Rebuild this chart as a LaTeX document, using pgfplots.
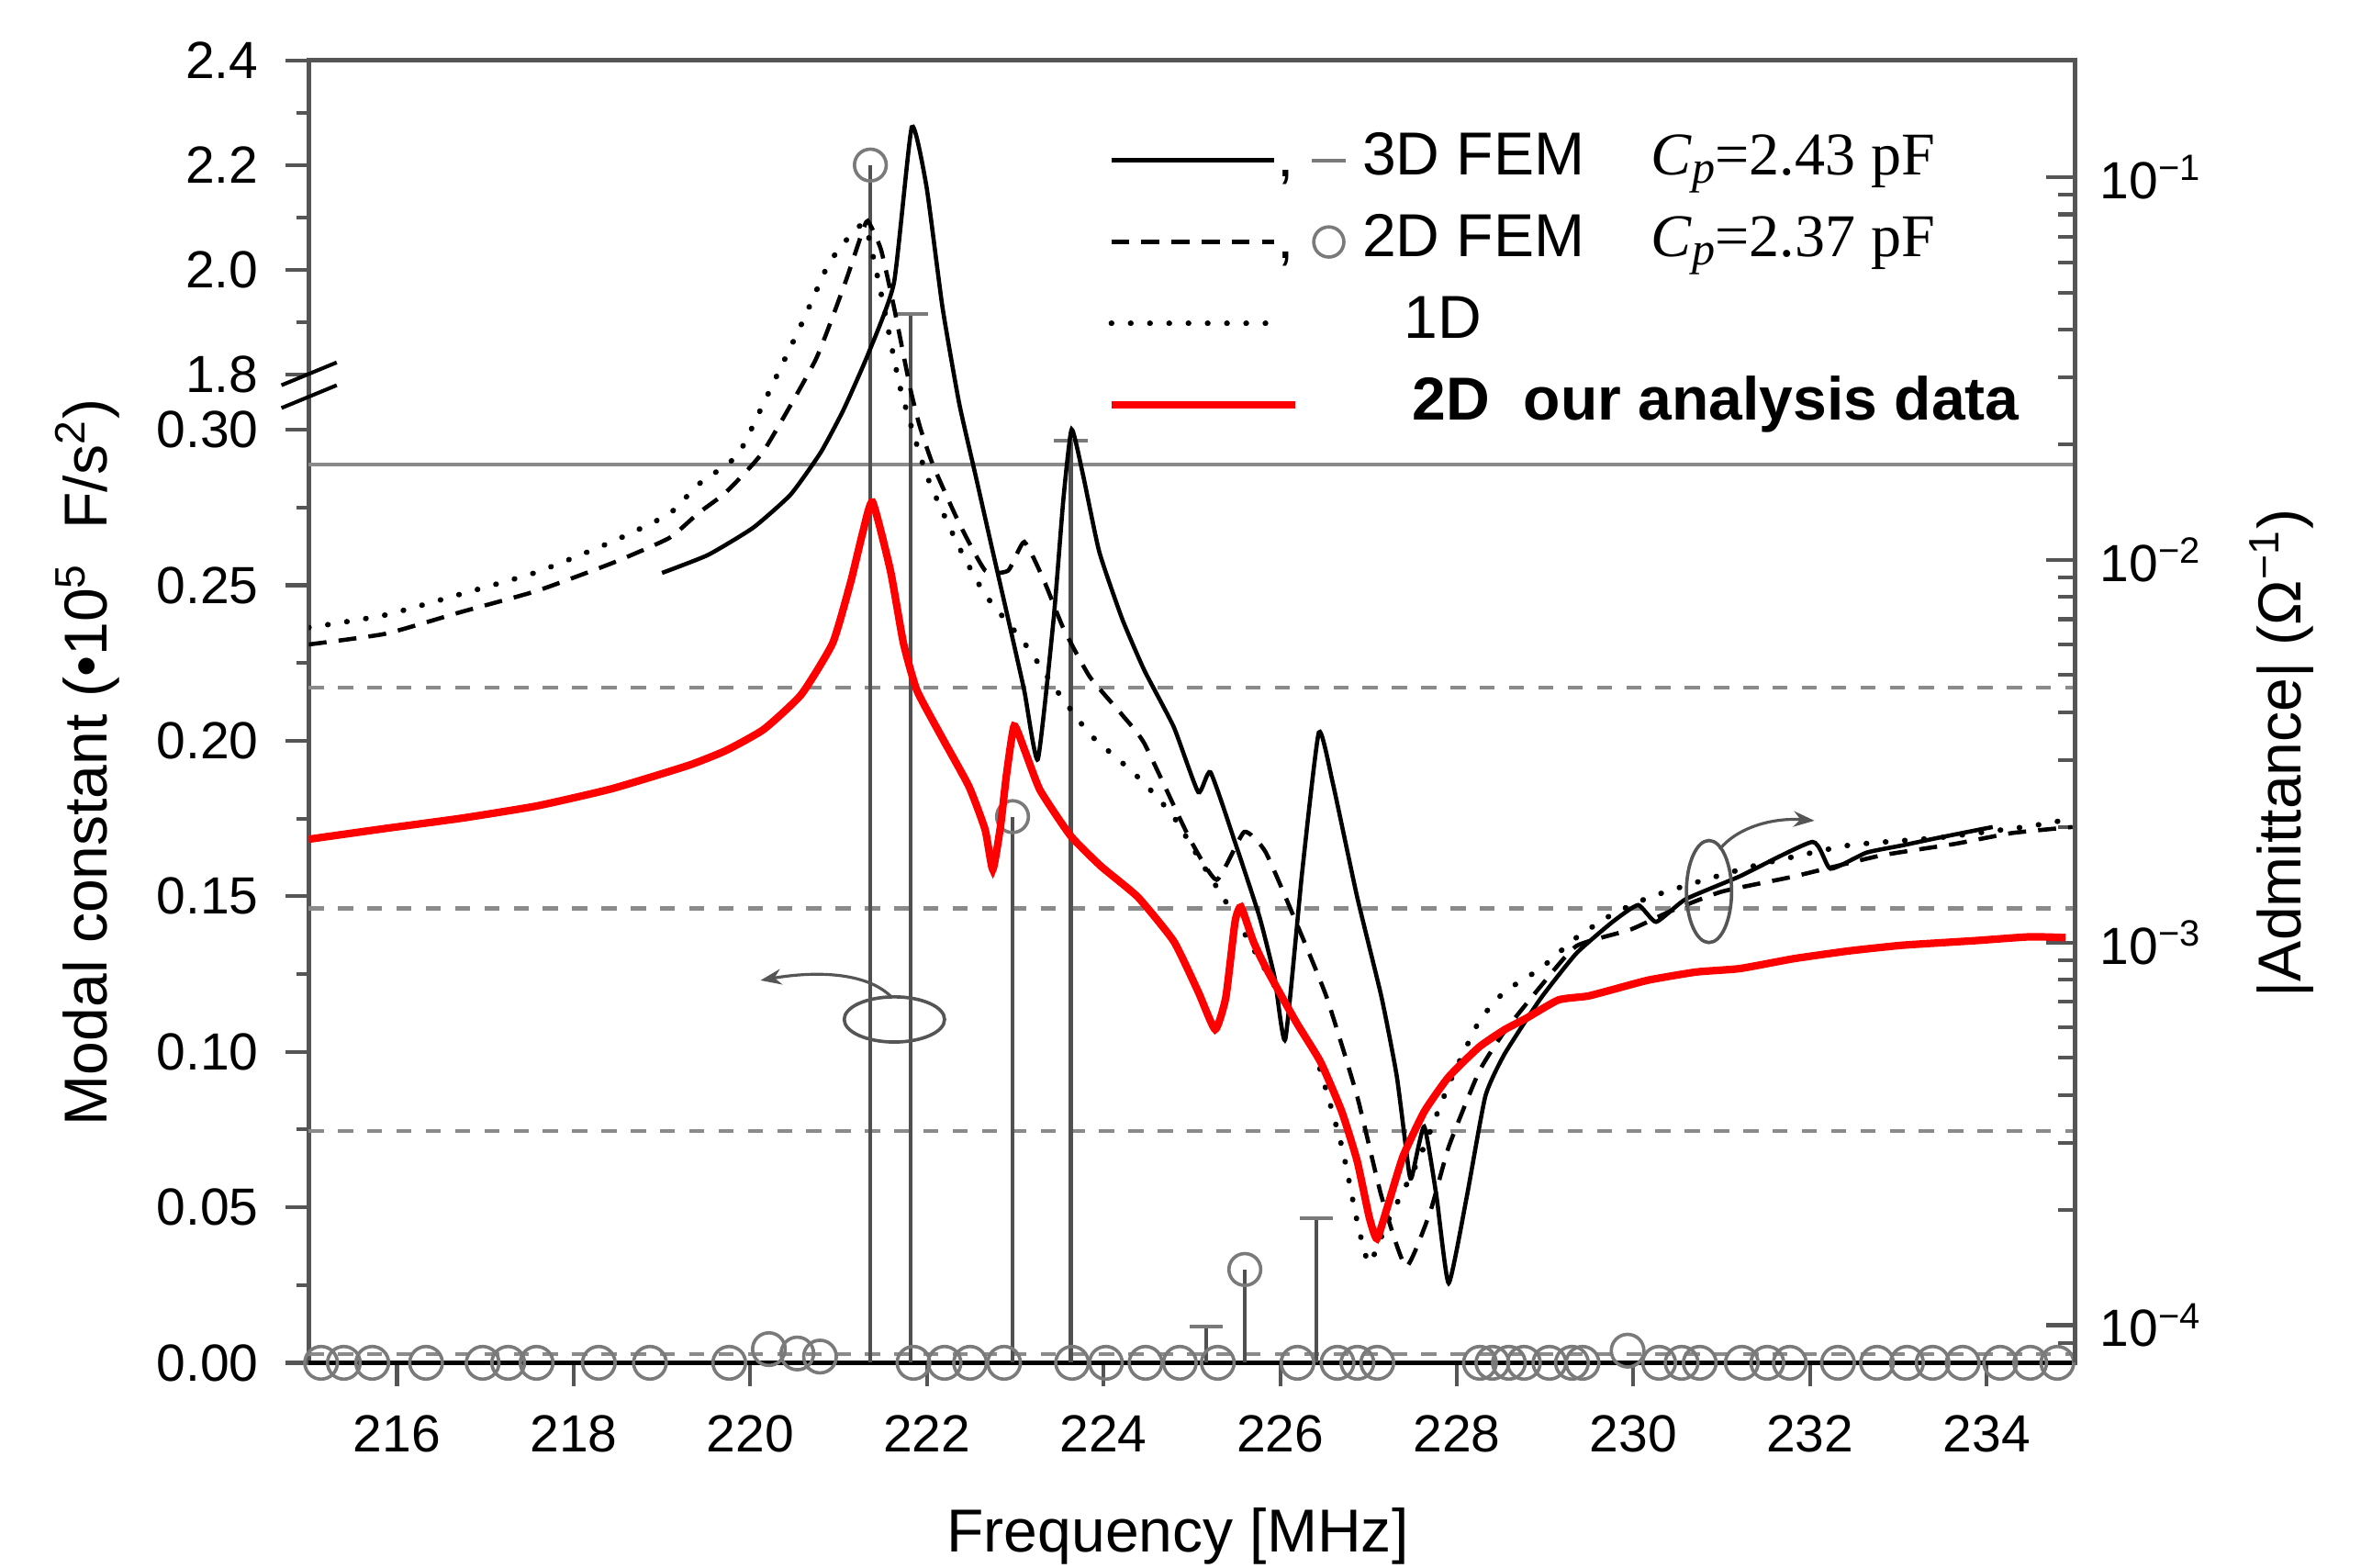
\documentclass[border=0pt]{standalone}
\usepackage{pgfplots}
\pgfplotsset{compat=1.18}
\usepackage{fontspec}
\setmainfont{Liberation Sans}
\newfontfamily\seriffont{Liberation Serif}
\usetikzlibrary{arrows.meta}
\definecolor{axgray}{HTML}{555555}
\definecolor{stemgray}{HTML}{505050}
\definecolor{refgray}{HTML}{8A8A8A}
\definecolor{markgray}{HTML}{7A7A7A}
\begin{document}
\begin{tikzpicture}
% ---------------- left axis: modal constants (broken scale) ----------------
\begin{axis}[
  width=422.3pt, height=311.4pt, scale only axis,
  xmin=215, xmax=235, ymin=0, ymax=0.4188,
  clip=false,
  axis line style={axgray, line width=1.1pt},
  tick align=outside, xtick pos=left, ytick pos=left,
  xtick={216,218,220,222,224,226,228,230,232,234},
  ytick={0,0.05,0.10,0.15,0.20,0.25,0.30,0.31785,0.35148,0.38510,0.41873},
  yticklabels={0.00,0.05,0.10,0.15,0.20,0.25,0.30,1.8,2.0,2.2,2.4},
  minor ytick={0.025,0.075,0.125,0.175,0.225,0.275,0.33467,0.36829,0.40192},
  major tick length=5.5pt, minor tick length=3pt,
  tick style={axgray, line width=0.9pt},
  tick label style={font=\fontsize{12.5}{14}\selectfont, black},
  xticklabel style={yshift=-3.5pt},
  yticklabel style={xshift=-3pt},
  /pgf/number format/assume math mode=true,
  xlabel={Frequency [MHz]},
  ylabel={Modal constant (•10\textsuperscript{5}\ \ F/s\textsuperscript{2})},
  every axis x label/.style={at={(axis description cs:0.492,-0.133)}, anchor=center,
    font=\fontsize{14.5}{17}\selectfont},
  every axis y label/.style={at={(axis description cs:-0.1253,0.461)}, anchor=center, rotate=90,
    font=\fontsize{14.5}{17}\selectfont},
]
% reference lines
\addplot[refgray, line width=0.9pt] coordinates {(215,0.2888) (235,0.2888)};
\addplot[refgray, line width=0.9pt, dash pattern=on 3.6pt off 3.4pt] coordinates {(215,0.2172) (235,0.2172)};
\addplot[refgray, line width=0.9pt, dash pattern=on 3.6pt off 3.4pt] coordinates {(215,0.1461) (235,0.1461)};
\addplot[refgray, line width=0.9pt, dash pattern=on 3.6pt off 3.4pt] coordinates {(215,0.0745) (235,0.0745)};
\addplot[refgray, line width=0.9pt, dash pattern=on 3.6pt off 3.4pt] coordinates {(215,0.0029) (235,0.0029)};
% bottom axis line in black
\addplot[black, line width=1.1pt] coordinates {(215,0) (235,0)};
% 3D FEM modal constants
\addplot[ycomb, stemgray, line width=0.9pt, mark=-, mark size=4pt, mark options={markgray, line width=0.9pt, solid}]
  coordinates {(221.82,0.3372) (223.63,0.2966) (225.16,0.0116) (226.41,0.0464)};
% 2D FEM modal constants (non-zero)
\addplot[ycomb, stemgray, line width=0.9pt, mark=o, mark size=3.8pt, mark options={markgray, fill=white, line width=0.8pt, solid}]
  coordinates {(221.36,0.3851) (222.97,0.1756) (225.60,0.0300)};
% 2D FEM modal constants (zero)
\addplot[only marks, mark=o, mark size=3.9pt, mark options={markgray, line width=0.8pt}]
  coordinates {(215.141,0) (215.398,0) (215.720,0) (216.329,0) (216.970,0) (217.259,0) (217.581,0)
  (218.285,0) (218.864,0) (219.762,0) (220.211,0.0044) (220.533,0.003) (220.790,0.002) (221.848,0)
  (222.200,0) (222.489,0) (222.874,0) (223.644,0) (224.027,0) (224.476,0) (224.864,0) (225.294,0)
  (226.196,0) (226.649,0) (226.875,0) (227.100,0) (228.262,0) (228.403,0) (228.590,0) (228.760,0)
  (229.049,0) (229.304,0) (229.424,0) (229.934,0.0039) (230.291,0) (230.546,0) (230.751,0)
  (231.227,0) (231.516,0) (231.771,0) (232.316,0) (232.758,0) (233.098,0) (233.388,0) (233.728,0)
  (234.153,0) (234.493,0) (234.800,0)};
% axis break marks
\draw[black, line width=0.9pt] (axis description cs:-0.0154,0.7330) -- (axis description cs:0.0159,0.7505);
\draw[black, line width=0.9pt] (axis description cs:-0.0154,0.7505) -- (axis description cs:0.0159,0.7680);
\end{axis}
% ---------------- right axis: admittance (log10 units) ----------------
\begin{axis}[
  width=422.3pt, height=311.4pt, scale only axis,
  xmin=215, xmax=235, ymin=-4.0983, ymax=-0.6941,
  axis x line=none, axis y line*=right,
  axis line style={axgray, line width=1.1pt},
  tick align=inside,
  ytick={-4,-3,-2,-1},
  yticklabels={10\textsuperscript{−4},10\textsuperscript{−3},10\textsuperscript{−2},10\textsuperscript{−1}},
  minor ytick={-4.0458,-3.699,-3.523,-3.398,-3.301,-3.222,-3.155,-3.097,-3.046,
    -2.699,-2.523,-2.398,-2.301,-2.222,-2.155,-2.097,-2.046,
    -1.699,-1.523,-1.398,-1.301,-1.222,-1.155,-1.097,-1.046},
  major tick length=6.8pt, minor tick length=4pt,
  tick style={axgray, line width=0.9pt},
  tick label style={font=\fontsize{12.5}{14}\selectfont, black},
  yticklabel style={xshift=2.5pt},
  ylabel={|Admittance| (Ω\textsuperscript{−1})},
  every axis y label/.style={at={(axis description cs:1.1168,0.468)}, anchor=center, rotate=90,
    font=\fontsize{14.5}{17}\selectfont},
  legend style={at={(axis description cs:0.4518,0.9446)}, anchor=north west, draw=none, fill=none,
    font=\fontsize{14.5}{17}\selectfont, row sep=6.5pt, inner sep=0pt,
    nodes={inner sep=0pt, text height=10pt, text depth=3pt}},
  legend cell align=left,
]
\addlegendimage{legend image code/.code={
  \draw[black, line width=1.1pt] (0pt,0pt) -- (39pt,0pt);
  \node[inner sep=0pt, anchor=base west, text height=, text depth=] at (39.5pt,-4pt) {,};
  \draw[markgray, line width=0.8pt] (48pt,0pt) -- (56pt,0pt);
  \path[draw=none, fill=none] (0pt,-3pt) rectangle (60pt,3pt);}}
\addlegendentry{3D FEM\hspace{1.1em}{\seriffont\textit{C}\raisebox{-0.3ex}{\fontsize{11}{11}\selectfont\textit{p}}=2.43 pF}}
\addlegendimage{legend image code/.code={
  \draw[black, line width=1.0pt, dash pattern=on 4.3pt off 2.9pt] (0pt,0pt) -- (39pt,0pt);
  \node[inner sep=0pt, anchor=base west, text height=, text depth=] at (39.5pt,-4pt) {,};
  \draw[markgray, line width=0.8pt] (52pt,0pt) circle (3.6pt);
  \path[draw=none, fill=none] (0pt,-3pt) rectangle (60pt,3pt);}}
\addlegendentry{2D FEM\hspace{1.1em}{\seriffont\textit{C}\raisebox{-0.3ex}{\fontsize{11}{11}\selectfont\textit{p}}=2.37 pF}}
\addlegendimage{legend image code/.code={
  \draw[black, line width=1.3pt, dash pattern=on 0.1pt off 4.5pt, line cap=round] (0pt,0pt) -- (39pt,0pt);
  \path[draw=none, fill=none] (0pt,-3pt) rectangle (60pt,3pt);}}
\addlegendentry{\hspace{10pt}1D}
\addlegendimage{legend image code/.code={
  \draw[red, line width=1.8pt] (0pt,0pt) -- (44pt,0pt);
  \path[draw=none, fill=none] (0pt,-3pt) rectangle (60pt,3pt);}}
\addlegendentry{\hspace{12pt}{\fontsize{14.5}{17}\selectfont\textbf{2D\ \ our analysis data}}}
% 1D
\addplot[forget plot, smooth, tension=0.3, black, line width=1.3pt, dash pattern=on 0.1pt off 4.5pt, line cap=round] coordinates {
 (215.0,-2.177) (215.869,-2.144) (216.727,-2.089) (217.583,-2.032) (218.440,-1.952) (219.080,-1.880)
 (219.411,-1.803) (219.854,-1.727) (220.152,-1.590) (220.594,-1.377) (220.888,-1.226) (221.184,-1.138)
 (221.309,-1.129) (221.479,-1.301) (221.700,-1.552) (221.996,-1.778) (222.363,-1.966) (222.661,-2.091)
 (223.103,-2.217) (223.472,-2.342) (223.843,-2.455) (224.211,-2.530) (224.463,-2.584) (224.796,-2.672)
 (225.141,-2.803) (225.489,-2.933) (226.072,-3.168) (226.387,-3.285) (226.698,-3.533) (226.872,-3.729)
 (227.008,-3.839) (227.217,-3.729) (227.562,-3.571) (227.910,-3.371) (228.250,-3.207) (228.539,-3.129)
 (228.947,-3.068) (229.355,-2.987) (229.764,-2.926) (230.177,-2.882) (230.793,-2.837) (231.409,-2.797)
 (232.435,-2.746) (233.456,-2.726) (234.485,-2.696) (234.970,-2.676)};
% 2D FEM
\addplot[forget plot, smooth, tension=0.3, black, line width=1.0pt, dash pattern=on 4.3pt off 2.9pt] coordinates {
 (215.0,-2.221) (215.869,-2.193) (216.727,-2.136) (217.583,-2.081) (218.440,-2.008) (219.080,-1.943)
 (219.411,-1.878) (219.726,-1.823) (220.152,-1.715) (220.740,-1.477) (221.074,-1.276) (221.257,-1.151)
 (221.331,-1.114) (221.479,-1.188) (221.627,-1.339) (221.812,-1.552) (221.921,-1.652) (222.071,-1.753)
 (222.363,-1.903) (222.661,-2.028) (222.920,-2.028) (223.103,-1.953) (223.324,-2.053) (223.546,-2.179)
 (223.843,-2.305) (224.211,-2.405) (224.463,-2.480) (224.966,-2.724) (225.281,-2.836) (225.592,-2.711)
 (225.834,-2.763) (226.179,-2.946) (226.525,-3.142) (226.872,-3.402) (227.147,-3.663) (227.425,-3.847)
 (227.700,-3.703) (227.910,-3.533) (228.253,-3.337) (228.539,-3.233) (228.947,-3.115) (229.355,-3.009)
 (229.968,-2.966) (230.410,-2.919) (230.999,-2.867) (231.822,-2.827) (232.792,-2.773) (233.643,-2.742)
 (234.281,-2.714) (234.970,-2.698)};
% 3D FEM
\addplot[forget plot, smooth, tension=0.3, black, line width=1.0pt] coordinates {
 (219.001,-2.034) (219.522,-1.987) (220.032,-1.916) (220.458,-1.829) (220.798,-1.719) (221.053,-1.609)
 (221.331,-1.464) (221.627,-1.276) (221.829,-0.869) (221.996,-1.025) (222.176,-1.339) (222.365,-1.590)
 (222.550,-1.778) (222.734,-1.966) (222.920,-2.154) (223.103,-2.342) (223.256,-2.521) (223.435,-2.154)
 (223.546,-1.840) (223.639,-1.659) (223.768,-1.778) (223.952,-1.979) (224.211,-2.154) (224.463,-2.289)
 (224.796,-2.437) (225.073,-2.607) (225.211,-2.555) (225.489,-2.738) (225.766,-2.933) (225.936,-3.090)
 (226.058,-3.253) (226.249,-2.816) (226.438,-2.451) (226.594,-2.581) (226.872,-2.881) (227.147,-3.142)
 (227.321,-3.350) (227.458,-3.598) (227.493,-3.611) (227.631,-3.481) (227.770,-3.663) (227.908,-3.890)
 (228.114,-3.663) (228.323,-3.402) (228.539,-3.292) (228.947,-3.147) (229.355,-3.028) (229.764,-2.946)
 (230.053,-2.902) (230.257,-2.946) (230.589,-2.887) (231.203,-2.827) (232.027,-2.737) (232.231,-2.807)
 (232.639,-2.765) (233.047,-2.746) (233.456,-2.726) (234.068,-2.698)};
% 2D our analysis data
\addplot[forget plot, smooth, tension=0.3, red, line width=1.8pt] coordinates {
 (215.00,-2.730) (215.864,-2.702) (216.732,-2.675) (217.583,-2.643) (218.433,-2.598) (219.301,-2.537)
 (219.726,-2.498) (220.152,-2.443) (220.577,-2.352) (220.934,-2.217) (221.138,-2.057) (221.274,-1.928)
 (221.385,-1.849) (221.589,-2.030) (221.734,-2.217) (221.887,-2.341) (222.176,-2.466) (222.476,-2.592)
 (222.659,-2.705) (222.746,-2.809) (222.833,-2.697) (222.901,-2.562) (222.988,-2.434) (223.108,-2.498)
 (223.282,-2.602) (223.627,-2.721) (223.973,-2.801) (224.388,-2.881) (224.796,-2.997) (225.073,-3.129)
 (225.264,-3.227) (225.385,-3.143) (225.489,-2.946) (225.557,-2.907) (225.696,-2.997) (225.834,-3.064)
 (226.179,-3.207) (226.457,-3.312) (226.698,-3.442) (226.872,-3.571) (227.008,-3.717) (227.096,-3.774)
 (227.217,-3.689) (227.389,-3.560) (227.631,-3.442) (227.908,-3.351) (228.253,-3.273) (228.539,-3.228)
 (228.786,-3.198) (229.151,-3.150) (229.482,-3.140) (229.764,-3.123) (230.172,-3.098) (230.711,-3.077)
 (231.205,-3.068) (231.819,-3.042) (232.435,-3.022) (233.047,-3.007) (233.871,-2.995) (234.485,-2.985)
 (234.895,-2.987)};
% annotations
\draw[axgray, line width=0.8pt] (axis description cs:0.3316,0.2636) ellipse [x radius=12pt, y radius=5.4pt];
\draw[axgray, line width=0.7pt, -{Stealth[length=5pt]}] (axis description cs:0.3299,0.2809)
  .. controls (axis description cs:0.3154,0.3006) and (axis description cs:0.2856,0.3006) .. (axis description cs:0.2558,0.2936);
\draw[axgray, line width=0.8pt] (axis description cs:0.7928,0.3618) ellipse [x radius=5.4pt, y radius=12.2pt];
\draw[axgray, line width=0.7pt, -{Stealth[length=5pt]}] (axis description cs:0.7988,0.3942)
  .. controls (axis description cs:0.8099,0.4127) and (axis description cs:0.8312,0.4185) .. (axis description cs:0.8525,0.4162);
\end{axis}
\pgfresetboundingbox
\path (-73.8pt,-48.96pt) rectangle (490.68pt,325.8pt);
\end{tikzpicture}
\end{document}
